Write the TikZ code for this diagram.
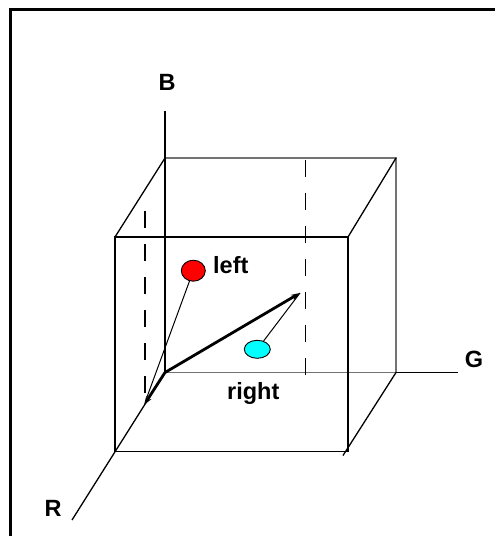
\documentclass[tikz,border=0pt]{standalone}
\usepackage{fontspec}
\setmainfont{Liberation Sans}
\usetikzlibrary{arrows.meta,shapes.geometric}
\definecolor{dotcyan}{RGB}{0,255,255}
\definecolor{dotred}{RGB}{255,0,0}
\begin{document}
\begin{tikzpicture}[x=1pt,y=-1pt,
  backedge/.style={draw=black!55, line width=1.6pt},
  edge/.style={draw=black, line width=1.3pt},
  axis/.style={draw=black, line width=1.3pt},
  dashv/.style={draw=black, line width=1.4pt, dash pattern=on 17pt off 16pt},
  vec/.style={draw=black, line width=2.8pt, -{Stealth[length=9pt,width=6pt]}},
  link/.style={draw=black, line width=1pt},
  lbl/.style={font=\bfseries\fontsize{23.5}{23.5}\selectfont, inner sep=0pt},
  dot/.style={ellipse, draw=black, line width=0.9pt, inner sep=0pt}
]
\useasboundingbox (0,0) rectangle (495,536);
\draw[line width=3pt] (10.5,536) -- (10.5,9.5) -- (495,9.5);
% cube corners
\coordinate (O) at (165,372.5);
\coordinate (BTL) at (165,158);
\coordinate (BTR) at (396,158);
\coordinate (BBR) at (396,372.5);
\coordinate (FTL) at (115,237);
\coordinate (FTR) at (348,237);
\coordinate (FBR) at (348,451.5);
\coordinate (FBL) at (115,451.5);
\coordinate (BBRd) at (343,455.5);
% axis ends
\coordinate (Btop) at (165,110.5);
\coordinate (Rend) at (72,520);
\coordinate (Gend) at (458,372.5);
% dashed line ends
\coordinate (dl1) at (145,211);
\coordinate (dl2) at (145,398);
\coordinate (dr1) at (305.5,160);
\coordinate (dr2) at (305.5,376);
% vector ends
\coordinate (vend) at (300,293);
\coordinate (rtip) at (144,405);
\coordinate (lend) at (147,397);
% back edges
\draw[backedge] (BTL) -- (BTR) -- (BBR) -- (O);
% diagonals
\draw[edge] (BTL) -- (FTL);
\draw[edge] (BTR) -- (FTR);
\draw[edge] (BBR) -- (BBRd);
% front face
\draw[edge] (FTL) rectangle (FBR);
% axes
\draw[axis] (Btop) -- (O);
\draw[axis] (O) -- (Rend);
\draw[axis] (BBR) -- (Gend);
% dashed verticals
\draw[dashv] (dl1) -- (dl2);
\draw[dashv] (dr1) -- (dr2);
% vectors
\draw[vec] (O) -- (vend);
\draw[vec] (O) -- (rtip);
% dots
\node[dot, fill=dotred, minimum width=24pt, minimum height=21pt] (reddot) at (193.3,270.7) {};
\node[dot, fill=dotcyan, minimum width=26pt, minimum height=18pt] (cyandot) at (257.3,349.3) {};
\draw[link] (reddot) -- (lend);
\draw[link] (cyandot) -- (vend);
% labels
\node[lbl, anchor=base west] (leftlbl) at (213,273) {left};
\node[lbl, anchor=base west] (rightlbl) at (227,399) {right};
\node[lbl] (Blbl) at (167,82) {B};
\node[lbl] (Glbl) at (474,359) {G};
\node[lbl] (Rlbl) at (53,508) {R};
\end{tikzpicture}
\end{document}
